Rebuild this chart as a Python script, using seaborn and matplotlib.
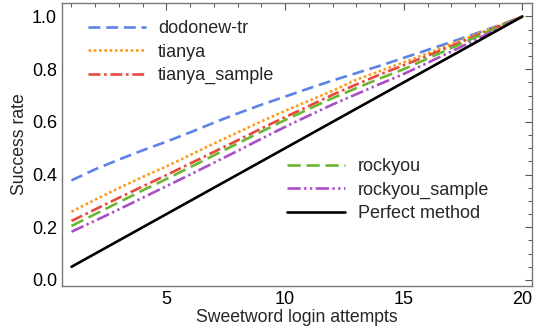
import matplotlib
matplotlib.use("Agg")
import matplotlib.pyplot as plt
import seaborn as sns
import pandas as pd
from matplotlib.ticker import MultipleLocator

attempts = list(range(1, 21))
dodonew = [0.378, 0.420, 0.457, 0.492, 0.525, 0.560, 0.597, 0.632, 0.665, 0.696,
           0.727, 0.757, 0.785, 0.813, 0.843, 0.873, 0.903, 0.934, 0.966, 1.000]
tianya = [0.259, 0.305, 0.349, 0.391, 0.431, 0.474, 0.518, 0.560, 0.602, 0.642,
          0.680, 0.718, 0.760, 0.793, 0.826, 0.860, 0.895, 0.930, 0.965, 1.000]
tianya_sample = [0.224, 0.268, 0.312, 0.355, 0.398, 0.442, 0.486, 0.530, 0.575, 0.618,
                 0.660, 0.703, 0.742, 0.780, 0.815, 0.851, 0.888, 0.925, 0.962, 1.000]
rockyou = [0.205, 0.250, 0.295, 0.340, 0.383, 0.428, 0.473, 0.518, 0.563, 0.607,
           0.649, 0.690, 0.728, 0.765, 0.800, 0.840, 0.880, 0.920, 0.960, 1.000]
rockyou_sample = [0.183, 0.225, 0.268, 0.312, 0.356, 0.400, 0.445, 0.490, 0.536, 0.581,
                  0.624, 0.666, 0.705, 0.744, 0.782, 0.824, 0.867, 0.910, 0.955, 1.000]
perfect = [0.05, 0.10, 0.15, 0.20, 0.25, 0.30, 0.35, 0.40, 0.45, 0.50,
           0.55, 0.60, 0.65, 0.70, 0.75, 0.80, 0.85, 0.90, 0.95, 1.00]

sns.set_style("white")
plt.rcParams['font.family'] = ['Liberation Sans', 'DejaVu Sans']

fig = plt.figure(figsize=(5.38, 3.3), dpi=100)
ax = fig.add_axes([0.1152, 0.134, 0.8736, 0.856])

series = [
    ("dodonew-tr", dodonew, "#5b84e6", (0, (4.5, 2.2))),
    ("tianya", tianya, "#ff9a1a", (0, (1.0, 1.0))),
    ("tianya_sample", tianya_sample, "#e8493c", (0, (4.5, 1.4, 1.0, 1.4))),
    ("rockyou", rockyou, "#6cb52e", (0, (5, 2.2))),
    ("rockyou_sample", rockyou_sample, "#a94fc6", (0, (5, 1.3, 0.9, 1.3, 0.9, 1.3))),
    ("Perfect method", perfect, "black", "-"),
]

for name, vals, col, ls in series:
    df = pd.DataFrame({"x": attempts, "y": vals})
    sns.lineplot(data=df, x="x", y="y", ax=ax, color=col, linestyle=ls,
                 linewidth=1.9, label=name, legend=False)

ax.set_xlim(0.6, 20.4)
ax.set_ylim(-0.022, 1.05)
ax.xaxis.set_major_locator(MultipleLocator(5))
ax.xaxis.set_minor_locator(MultipleLocator(1))
ax.yaxis.set_major_locator(MultipleLocator(0.2))
ax.yaxis.set_minor_locator(MultipleLocator(0.05))
ax.set_yticks([0.0, 0.2, 0.4, 0.6, 0.8, 1.0])
ax.set_yticklabels(["0.0", "0.2", "0.4", "0.6", "0.8", "1.0"])
ax.tick_params(which="both", direction="in", top=True, right=True,
               labelsize=13, colors="#555555", labelcolor="black")
ax.tick_params(which="major", length=5, width=0.8)
ax.tick_params(which="minor", length=3, width=0.7)
for sp in ax.spines.values():
    sp.set_color("#777777")
    sp.set_linewidth(1.0)

ax.set_xlabel("Sweetword login attempts", fontsize=12.7, labelpad=1)
ax.set_ylabel("Success rate", fontsize=12.7, labelpad=3)

handles, labels = ax.get_legend_handles_labels()
leg1 = ax.legend(handles[:3], labels[:3], loc="upper left",
                 bbox_to_anchor=(0.055, 0.94), frameon=False, fontsize=13,
                 handlelength=3.2, handletextpad=0.7, labelspacing=0.36,
                 borderpad=0, borderaxespad=0)
ax.add_artist(leg1)
ax.legend(handles[3:], labels[3:], loc="upper left",
          bbox_to_anchor=(0.479, 0.452), frameon=False, fontsize=13,
          handlelength=3.2, handletextpad=0.7, labelspacing=0.36,
          borderpad=0, borderaxespad=0)

fig.savefig("out.png", dpi=100)
